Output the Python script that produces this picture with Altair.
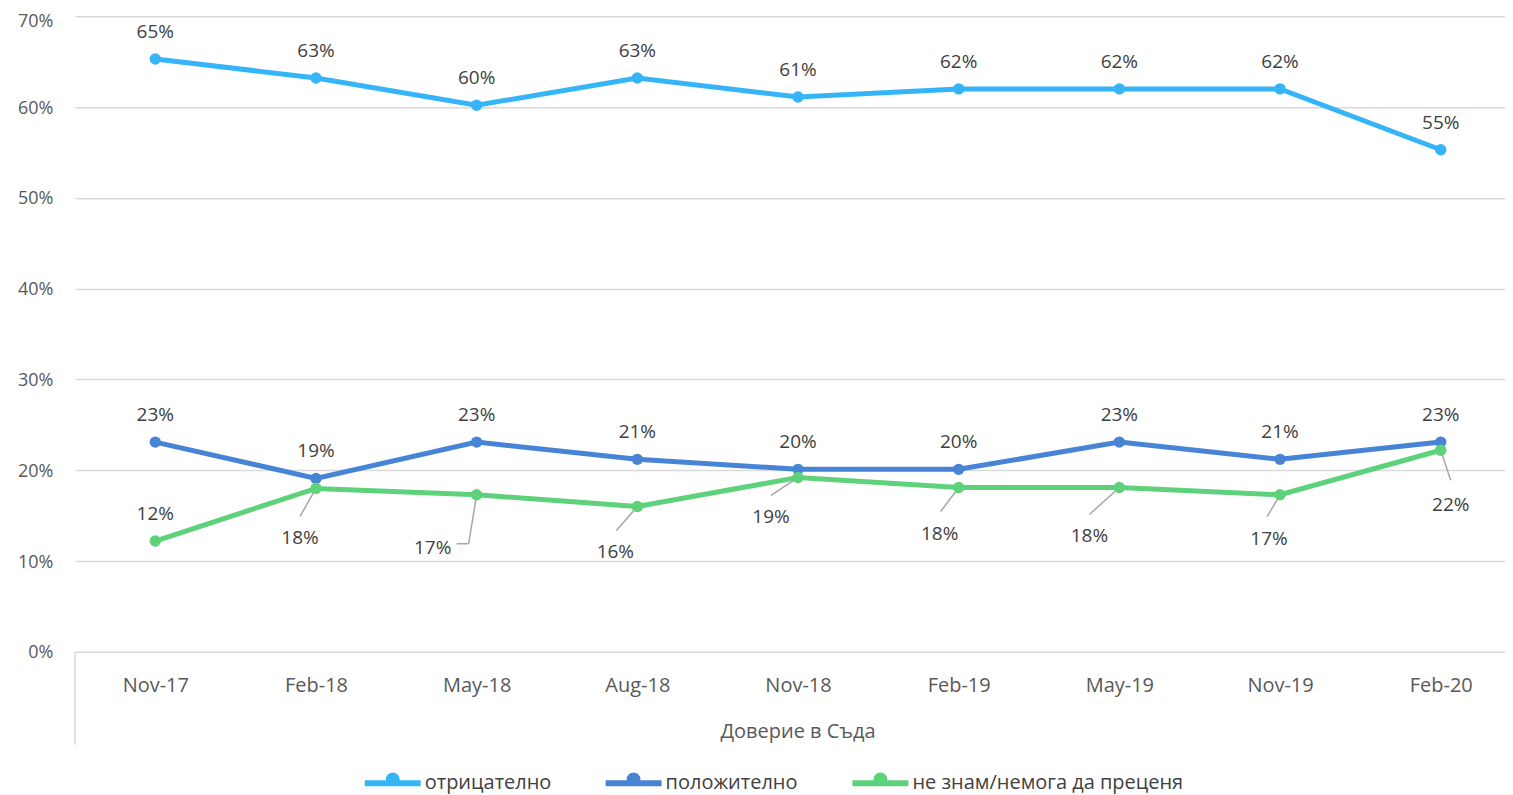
import altair as alt
import pandas as pd

# ---------------- data ----------------
categories = ["Nov-17", "Feb-18", "May-18", "Aug-18", "Nov-18",
              "Feb-19", "May-19", "Nov-19", "Feb-20"]
series_names = ["отрицателно", "положително", "не знам/немога да преценя"]
negative = [65.3, 63.2, 60.2, 63.2, 61.1, 62.0, 62.0, 62.0, 55.3]
positive = [23.1, 19.1, 23.1, 21.2, 20.1, 20.1, 23.1, 21.2, 23.1]
dont_know = [12.2, 18.0, 17.3, 16.0, 19.2, 18.1, 18.1, 17.3, 22.2]
y_ticks = [0, 10, 20, 30, 40, 50, 60, 70]
x_title = "Доверие в Съда"

# ---------------- style ----------------
colors = ["#35B5F8", "#4884D5", "#5DD27B"]
W, H = 1431, 636
X_MIN, X_MAX = -0.5, 8.4
Y_MAX = 70
PX_X = W / (X_MAX - X_MIN)
PX_Y = H / Y_MAX
FONT = "Open Sans"

# label offsets in pixels relative to point (dx, dy); positive dy = downward
top_dy = -27
green_label_dx = [0, -16, -44, -22, -27, -19, -30, -11, 10]
green_label_dy = [-27, 50, 53, 45, 40, 47, 49, 44, 55]
green_leaders = [
    None,
    [(0, 0), (-16, 28)],
    [(0, 0), (-8, 49), (-20, 49)],
    [(0, 0), (-21, 24)],
    [(0, 0), (-27, 18)],
    [(0, 0), (-18, 24)],
    [(0, 0), (-30, 27)],
    [(0, 0), (-13, 22)],
    [(0, 0), (10, 30)],
]

rows = []
for s, vals in zip(series_names, [negative, positive, dont_know]):
    for i, v in enumerate(vals):
        if s == series_names[2]:
            dx, dy = green_label_dx[i], green_label_dy[i]
        else:
            dx, dy = 0, top_dy
        rows.append({
            "series": s, "i": i, "v": v,
            "label": f"{round(v)}%",
            "lx": i + dx / PX_X, "ly": v - dy / PX_Y,
        })
df = pd.DataFrame(rows)

lead_rows = []
for i, path in enumerate(green_leaders):
    if not path:
        continue
    v = dont_know[i]
    for (ax, ay), (bx, by) in zip(path[:-1], path[1:]):
        lead_rows.append({
            "x": i + ax / PX_X, "y": v - ay / PX_Y,
            "x2": i + bx / PX_X, "y2": v - by / PX_Y,
        })
lead_df = pd.DataFrame(lead_rows)

label_expr = "[" + ",".join(f"'{c}'" for c in categories) + "][datum.value]"

x_enc = alt.X("i:Q",
              scale=alt.Scale(domain=[X_MIN, X_MAX], nice=False, zero=False),
              axis=alt.Axis(values=list(range(len(categories))), labelExpr=label_expr,
                            grid=False, domain=False, ticks=False,
                            labelFontSize=20, labelColor="#595959", labelFont=FONT,
                            labelPadding=24, title=x_title, titleFont=FONT,
                            titleFontSize=20, titleFontWeight="normal",
                            titleColor="#595959", titlePadding=26, titleX=723))
y_enc = alt.Y("v:Q",
              scale=alt.Scale(domain=[0, Y_MAX], nice=False),
              axis=alt.Axis(values=y_ticks, labelExpr="datum.value + '%'",
                            grid=True, gridColor="#D9D9D9", gridWidth=1.5,
                            domain=False, ticks=False, labelFontSize=18,
                            labelColor="#595959", labelFont=FONT,
                            labelPadding=22,
                            labelOffset={"condition": {"test": f"datum.value == {Y_MAX}",
                                                       "value": 5},
                                         "value": 1},
                            title=None))

color_scale = alt.Scale(domain=series_names, range=colors)

legend_path = ("M-1,0 L1,0 M0.14,-0.14 A0.14,0.14 0 1,0 -0.14,-0.14 "
               "A0.14,0.14 0 1,0 0.14,-0.14")

base = alt.Chart(df)

lines = base.mark_line(strokeWidth=5).encode(
    x=x_enc, y=y_enc,
    color=alt.Color("series:N", scale=color_scale, sort=series_names,
                    legend=alt.Legend(title=None, orient="none", direction="horizontal",
                                      legendX=287, legendY=736,
                                      symbolType=legend_path, symbolSize=3136,
                                      symbolStrokeWidth=6, labelFontSize=20,
                                      labelFont=FONT, labelColor="#404040",
                                      labelLimit=600,
                                      columnPadding=42, labelOffset=1)),
    detail="series:N",
)

leaders = alt.Chart(lead_df).mark_rule(color="#A6A6A6", strokeWidth=1.5).encode(
    x="x:Q", y="y:Q", x2="x2:Q", y2="y2:Q")

points = base.mark_circle(size=130, opacity=1).encode(
    x="i:Q", y="v:Q",
    color=alt.Color("series:N", scale=color_scale, legend=None),
)

labels = base.mark_text(fontSize=19, font=FONT, color="#404040",
                        baseline="middle", align="center").encode(
    x="lx:Q", y="ly:Q", text="label:N")

edge = alt.Chart(pd.DataFrame({"k": [0]})).mark_rule(
    color="#D9D9D9", strokeWidth=1.5).encode(
    x=alt.value(0), y=alt.value(H), y2=alt.value(H + 93))

chart = alt.layer(lines, leaders, points, labels, edge).properties(
    width=W, height=H,
    autosize=alt.AutoSizeParams(type="none"),
    padding={"left": 67, "top": 8, "right": 0, "bottom": 148},
).configure_view(stroke=None)

chart.save("out.html", embed_options={"renderer": "svg", "actions": False})
